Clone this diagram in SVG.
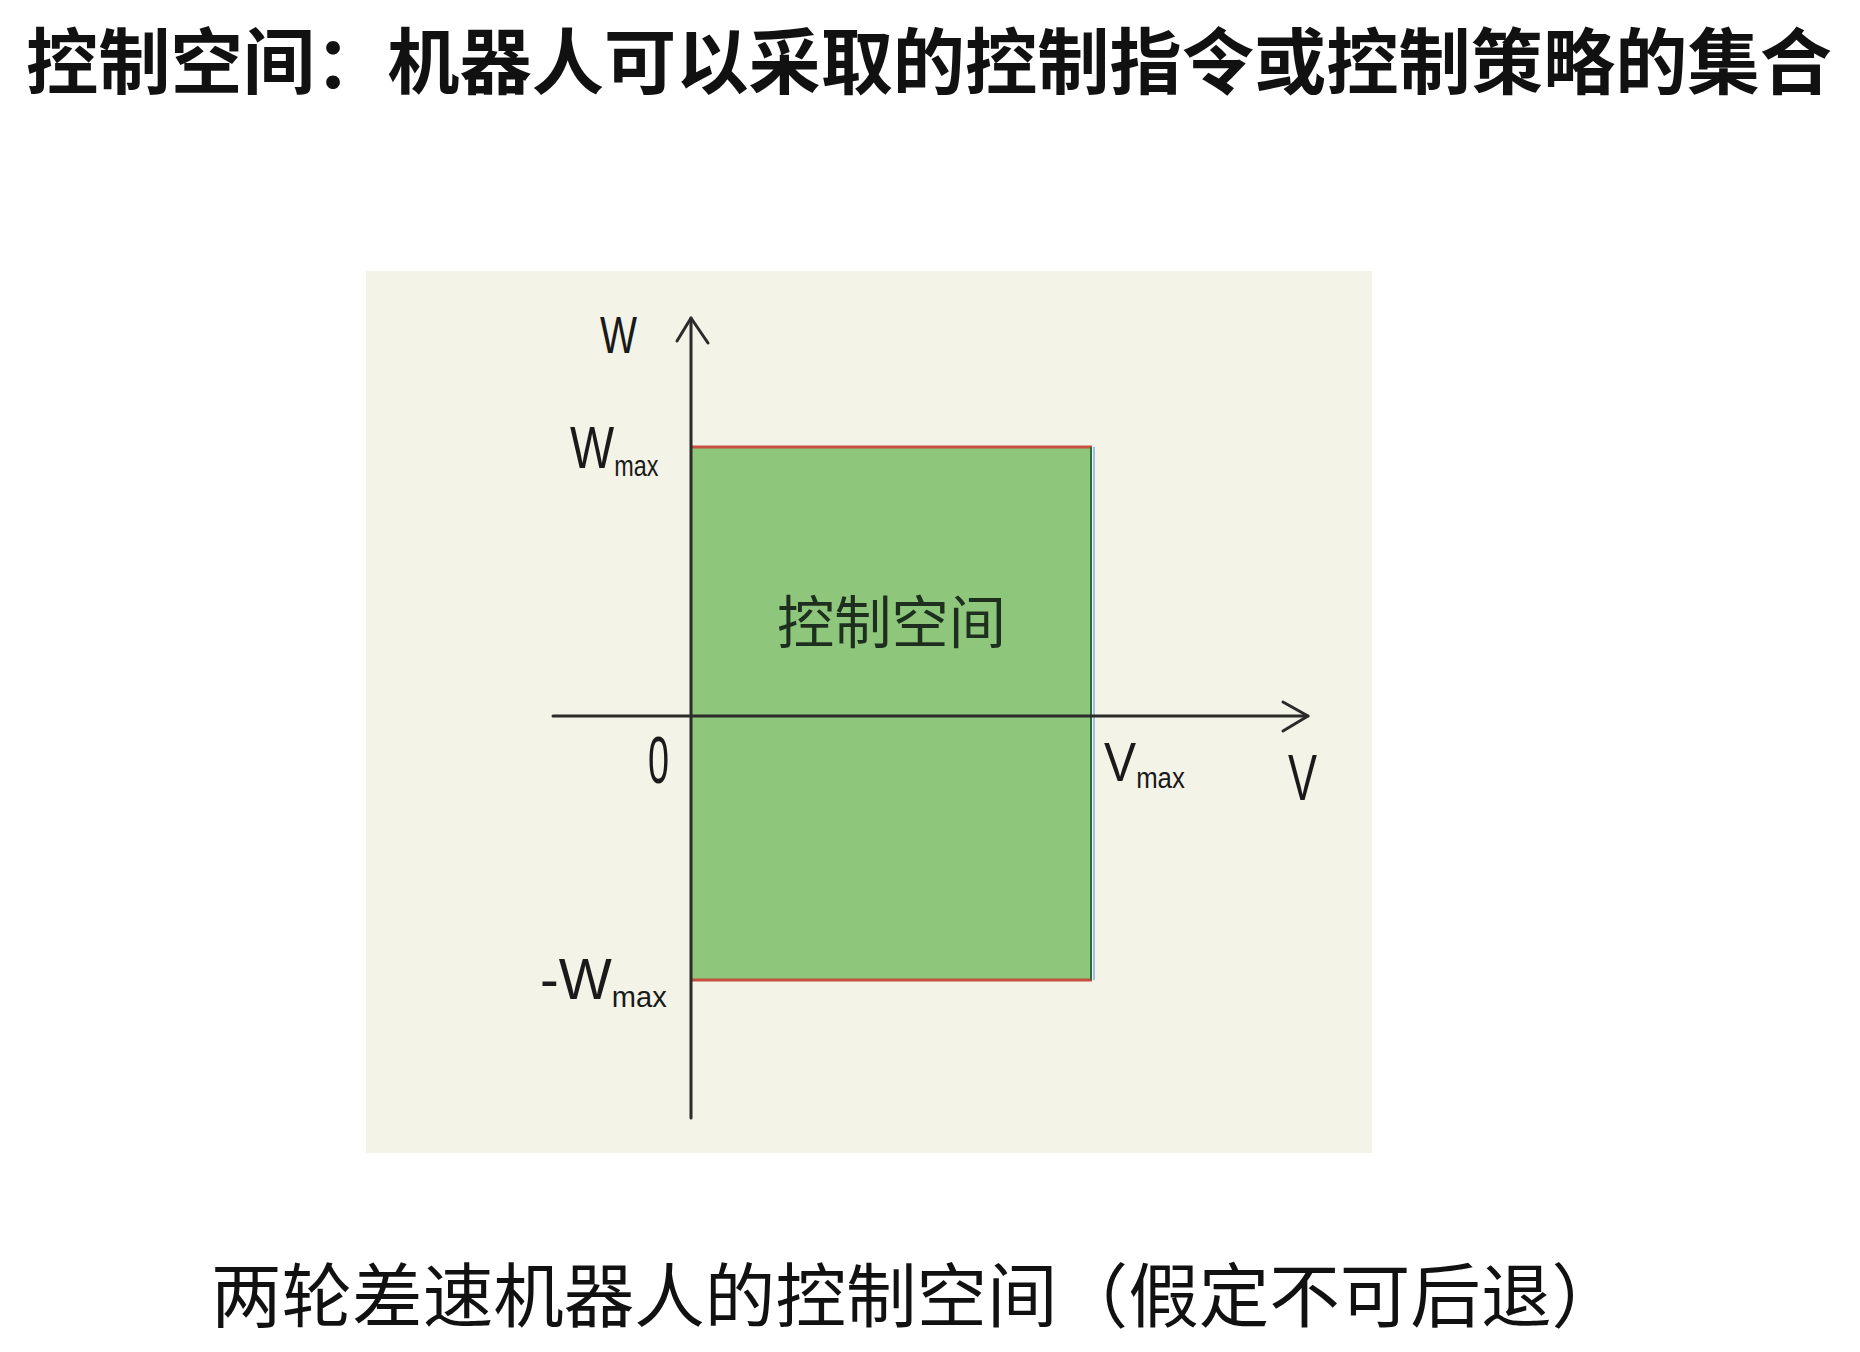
<svg xmlns="http://www.w3.org/2000/svg" width="1860" height="1352" viewBox="0 0 1860 1352">
<style>
.cjk{font-family:"Noto Sans CJK SC","Noto Sans",sans-serif;fill:#111}
.hand{font-family:"Liberation Sans","DejaVu Sans",sans-serif;fill:#1a1a1a}
.sub{font-size:30px}
.axis{stroke:#2b2b2b;stroke-width:3;fill:none;stroke-linecap:round;stroke-linejoin:round}
.lim{stroke:#c4513f;stroke-width:3}
</style>
<rect width="1860" height="1352" fill="#ffffff"/>
<g id="title">
<text class="cjk" x="26" y="88" font-size="72" font-weight="bold" textLength="1806" lengthAdjust="spacingAndGlyphs">控制空间：机器人可以采取的控制指令或控制策略的集合</text>
</g>
<g id="panel">
<rect x="366" y="271" width="1006" height="882" fill="#f3f3e7"/>
</g>
<g id="control-space">
<rect x="691" y="447" width="401" height="533" fill="#8ec67c"/>
<line class="lim" x1="691" y1="447" x2="1092" y2="447"/>
<line class="lim" x1="691" y1="980" x2="1092" y2="980"/>
<line x1="1091" y1="447" x2="1091" y2="980" stroke="#2f6a3c" stroke-width="2"/>
<line x1="1094" y1="447" x2="1094" y2="980" stroke="#9dbfe8" stroke-width="2"/>
<text class="cjk" x="777" y="643" font-size="57" textLength="229" lengthAdjust="spacingAndGlyphs" style="fill:#1f2f1f">控制空间</text>
</g>
<g id="connectors">
<line class="axis" x1="691" y1="318" x2="691" y2="1118"/>
<polyline class="axis" points="677,341 691,318 708,343"/>
<line class="axis" x1="553" y1="716" x2="1308" y2="716"/>
<polyline class="axis" points="1283,702 1308,716 1283,731"/>
</g>
<g id="labels">
<text class="hand" x="600" y="353" font-size="52" textLength="37" lengthAdjust="spacingAndGlyphs">W</text>
<text class="hand" transform="translate(570,468) scale(0.78,1)" x="0" y="0" font-size="60">W<tspan class="sub" dy="8">max</tspan></text>
<text class="hand" x="648" y="783" font-size="66" textLength="21" lengthAdjust="spacingAndGlyphs">0</text>
<text class="hand" transform="translate(540,999) scale(0.97,1)" x="0" y="0" font-size="58">-W<tspan class="sub" dy="8">max</tspan></text>
<text class="hand" transform="translate(1104,781) scale(0.86,1)" x="0" y="0" font-size="56">V<tspan class="sub" dy="7">max</tspan></text>
<text class="hand" x="1288" y="800" font-size="64" textLength="29" lengthAdjust="spacingAndGlyphs">V</text>
</g>
<g id="caption">
<text class="cjk" x="211" y="1322" font-size="70" textLength="1411" lengthAdjust="spacingAndGlyphs">两轮差速机器人的控制空间（假定不可后退）</text>
</g>
</svg>
